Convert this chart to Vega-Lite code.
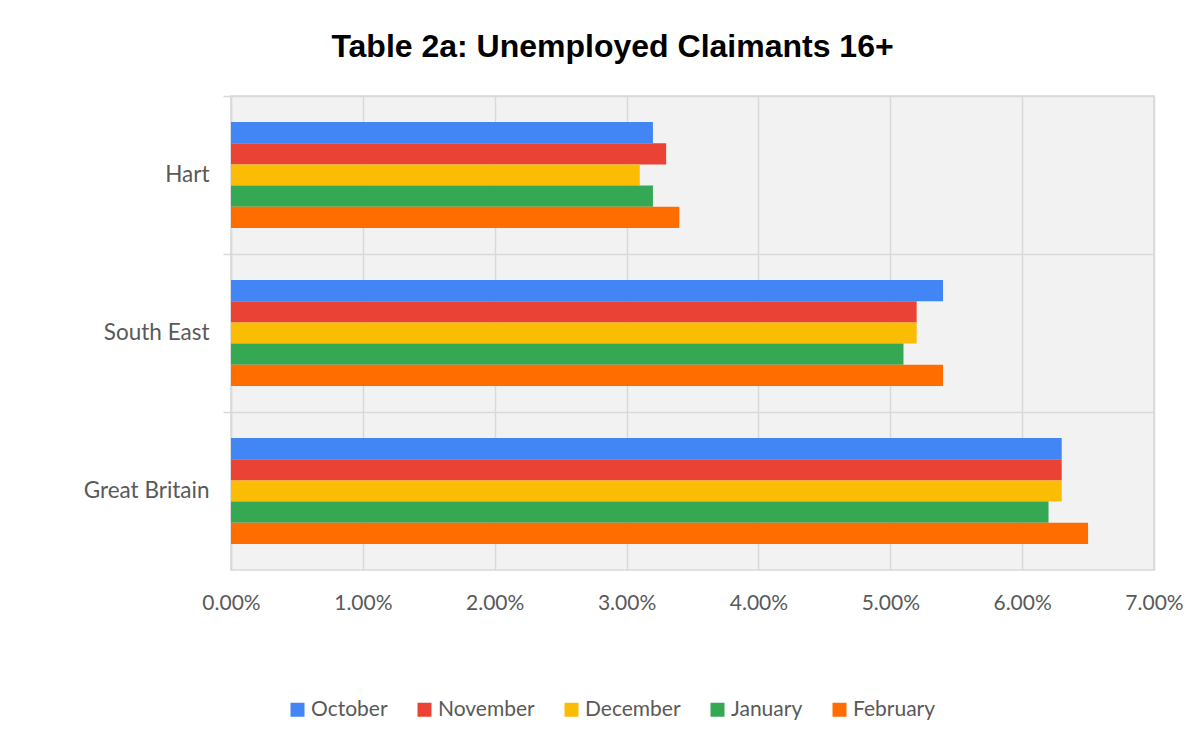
{
  "$schema": "https://vega.github.io/schema/vega-lite/v6.json",
  "width": 923,
  "height": 474,
  "autosize": {"type": "none"},
  "padding": {"left": 231, "top": 96, "right": 40, "bottom": 178},
  "background": "white",
  "title": {
    "text": "Table 2a: Unemployed Claimants 16+",
    "font": "Liberation Sans",
    "fontSize": 32,
    "fontWeight": "bold",
    "color": "#000000",
    "anchor": "middle",
    "offset": 31,
    "dx": -80
  },
  "data": {
    "values": [
      {"area": "Hart", "month": "October", "rate": 0.032},
      {"area": "Hart", "month": "November", "rate": 0.033},
      {"area": "Hart", "month": "December", "rate": 0.031},
      {"area": "Hart", "month": "January", "rate": 0.032},
      {"area": "Hart", "month": "February", "rate": 0.034},
      {"area": "South East", "month": "October", "rate": 0.054},
      {"area": "South East", "month": "November", "rate": 0.052},
      {"area": "South East", "month": "December", "rate": 0.052},
      {"area": "South East", "month": "January", "rate": 0.051},
      {"area": "South East", "month": "February", "rate": 0.054},
      {"area": "Great Britain", "month": "October", "rate": 0.063},
      {"area": "Great Britain", "month": "November", "rate": 0.063},
      {"area": "Great Britain", "month": "December", "rate": 0.063},
      {"area": "Great Britain", "month": "January", "rate": 0.062},
      {"area": "Great Britain", "month": "February", "rate": 0.065}
    ]
  },
  "mark": {"type": "bar"},
  "encoding": {
    "y": {
      "field": "area",
      "type": "nominal",
      "sort": ["Hart", "South East", "Great Britain"],
      "scale": {"paddingInner": 0.33, "paddingOuter": 0.165},
      "axis": {
        "title": null,
        "bandPosition": -0.2453,
        "grid": true,
        "gridColor": "#d9d9d9",
        "gridWidth": 1.5,
        "domainColor": "#d9d9d9",
        "domainWidth": 1.5,
        "tickColor": "#d9d9d9",
        "tickWidth": 1.5,
        "tickSize": 8,
        "labelPadding": 14,
        "labelFont": "Lato",
        "labelFontSize": 22.5,
        "labelColor": "#595959"
      }
    },
    "yOffset": {
      "field": "month",
      "type": "nominal",
      "sort": ["October", "November", "December", "January", "February"],
      "scale": {"paddingInner": 0, "paddingOuter": 0}
    },
    "x": {
      "field": "rate",
      "type": "quantitative",
      "scale": {"domain": [0, 0.07], "nice": false},
      "axis": {
        "title": null,
        "format": ".2%",
        "values": [0, 0.01, 0.02, 0.03, 0.04, 0.05, 0.06, 0.07],
        "labelOverlap": false,
        "labelFlush": false,
        "grid": true,
        "gridColor": "#d9d9d9",
        "gridWidth": 1.5,
        "domain": false,
        "ticks": false,
        "labelPadding": 22,
        "labelFont": "Lato",
        "labelFontSize": 21,
        "labelColor": "#595959"
      }
    },
    "color": {
      "field": "month",
      "type": "nominal",
      "sort": ["October", "November", "December", "January", "February"],
      "scale": {
        "domain": ["October", "November", "December", "January", "February"],
        "range": ["#4285F4", "#EA4335", "#FBBC04", "#34A853", "#FF6D01"]
      },
      "legend": {
        "title": null,
        "orient": "none",
        "legendX": 56,
        "legendY": 603,
        "direction": "horizontal",
        "symbolType": "square",
        "symbolSize": 196,
        "symbolStrokeWidth": 0,
        "labelFont": "Lato",
        "labelFontSize": 21,
        "labelColor": "#595959",
        "columnPadding": 26,
        "labelOffset": 3
      }
    }
  },
  "config": {
    "view": {"fill": "#f2f2f2", "stroke": "#d9d9d9", "strokeWidth": 1.5}
  }
}
